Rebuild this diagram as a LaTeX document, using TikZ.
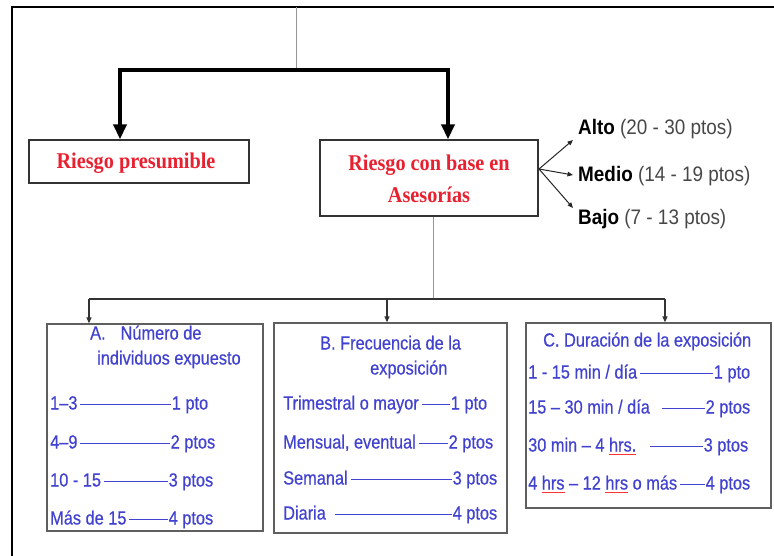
\documentclass[tikz,border=0pt]{standalone}
\usepackage{fontspec}
\setmainfont{Liberation Serif}
\newfontfamily\labelsans[FakeStretch=0.9]{Liberation Sans}
\newfontfamily\itemsans[FakeStretch=0.86,FakeBold=0.6]{Liberation Sans}
\newfontfamily\riskserif[FakeStretch=0.9]{Liberation Serif}
\usetikzlibrary{arrows.meta}

\definecolor{riskred}{RGB}{232,32,48}
\definecolor{itemblue}{RGB}{66,66,208}
\definecolor{linegray}{RGB}{150,150,150}
\definecolor{boxgray}{RGB}{95,95,95}

% one scored row: total width, item text, score; a rule fills the gap
\newcommand{\scorerow}[3]{\hbox to #1{#2\hskip 3pt\leaders\hrule height 6pt depth -5pt\hfill\hskip 1pt #3}}
% spell-check style underline under a word
\newcommand{\sqmark}[1]{\setbox0\hbox{#1}\rlap{\textcolor{red!80}{\rule[-3.5pt]{\wd0}{0.9pt}}}#1}

\tikzset{
  frameline/.style={line width=2.4pt, black},
  thinlink/.style={line width=1pt, linegray},
  bigarrow/.style={line width=3.6pt, black, -{Triangle[width=13pt,length=15pt]}},
  smallarrow/.style={line width=1.1pt, black!80, -{Triangle[width=5pt,length=6pt]}},
  fanarrow/.style={line width=1pt, black!85, -{Triangle[width=4.5pt,length=5.5pt]}},
  riskbox/.style={draw=black!80, line width=1.3pt, inner sep=0pt},
  critbox/.style={draw=boxgray, line width=1.3pt, inner sep=0pt},
  risktext/.style={text=riskred, font=\riskserif\fontsize{22.5}{26}\selectfont\bfseries, inner sep=0pt, anchor=base},
  leveltext/.style={font=\labelsans\fontsize{21}{25}\selectfont, text=black!72, inner sep=0pt, anchor=base west},
  itemtext/.style={font=\itemsans\fontsize{19}{23}\selectfont, text=itemblue, inner sep=0pt, anchor=base west},
}

\begin{document}
\begin{tikzpicture}[x=1pt,y=-1pt]
\useasboundingbox (0,0) rectangle (774,556);

% outer frame (only its top and left sides are in view)
\draw[frameline] (12,556) -- (12,7) -- (774,7);

% upper boxes
\node[riskbox, minimum width=220pt, minimum height=43pt] (presum) at (139,161.5) {};
\node[riskbox, minimum width=218pt, minimum height=76pt] (asesor) at (429,178) {};
\node[risktext] (presumtxt) at (136,169) {Riesgo presumible};
\node[risktext] (asesortxt1) at (429,170.5) {Riesgo con base en};
\node[risktext] (asesortxt2) at (429,202.5) {Asesorías};

% branching from the top
\coordinate (topin) at (296,7);
\coordinate (topjoin) at (296,70);
\coordinate (barL) at (120,70);
\coordinate (barR) at (448,70);
\draw[thinlink] (topin) -- (topjoin);
\draw[line width=3.6pt, black] ([xshift=-1.8pt]barL) -- ([xshift=1.8pt]barR);
\draw[bigarrow] (barL) -- (barL |- presum.north);
\draw[bigarrow] (barR) -- (barR |- asesor.north);

% risk levels
\node[leveltext] (alto) at (578,135) {\textbf{\textcolor{black}{Alto}} (20 - 30 ptos)};
\node[leveltext] (medio) at (578,182) {\textbf{\textcolor{black}{Medio}} (14 - 19 ptos)};
\node[leveltext] (bajo) at (578,225) {\textbf{\textcolor{black}{Bajo}} (7 - 13 ptos)};
\coordinate (fan) at (539,169);
\draw[fanarrow] (fan) -- (573,140);
\draw[fanarrow] (fan) -- (573,175);
\draw[fanarrow] (fan) -- (573,208);

% lower branching
\coordinate (lowjoin) at (433,299);
\draw[thinlink] (asesor.south -| lowjoin) -- (lowjoin);

% criteria boxes
\node[critbox, minimum width=216pt, minimum height=207pt] (boxA) at (155,427.5) {};
\node[critbox, minimum width=233pt, minimum height=210pt] (boxB) at (390.5,428) {};
\node[critbox, minimum width=245pt, minimum height=185pt] (boxC) at (648.5,415.5) {};

\coordinate (jA) at (89,299);
\coordinate (jB) at (387,299);
\coordinate (jC) at (665,299);
\draw[line width=1.1pt, black!80] (jA) -- (jC);
\draw[smallarrow] (jA) -- (jA |- boxA.north);
\draw[smallarrow] (jB) -- (jB |- boxB.north);
\draw[smallarrow] (jC) -- (jC |- boxC.north);

% A. number of exposed individuals
\node[itemtext] (aTitle1) at (90,339.5) {A.\hspace{15pt}Número de};
\node[itemtext] (aTitle2) at (97,364.5) {individuos expuesto};
\node[itemtext] (aRow1) at (50,409.5) {\scorerow{158pt}{1–3}{1 pto}};
\node[itemtext] (aRow2) at (50,448.5) {\scorerow{165pt}{4–9}{2 ptos}};
\node[itemtext] (aRow3) at (50,486.5) {\scorerow{163pt}{10 - 15}{3 ptos}};
\node[itemtext] (aRow4) at (50,524.5) {\scorerow{163pt}{Más de 15}{4 ptos}};

% B. frequency of exposure
\node[itemtext] (bTitle1) at (320,349.5) {B. Frecuencia de la};
\node[itemtext] (bTitle2) at (370,374.5) {exposición};
\node[itemtext] (bRow1) at (283,409.5) {\scorerow{204pt}{Trimestral o mayor}{1 pto}};
\node[itemtext] (bRow2) at (283,448.5) {\scorerow{210pt}{Mensual, eventual}{2 ptos}};
\node[itemtext] (bRow3) at (283,484.5) {\scorerow{214pt}{Semanal}{3 ptos}};
\node[itemtext] (bRow4) at (283,519.5) {\scorerow{214pt}{Diaria\hspace{6pt}}{4 ptos}};

% C. duration of exposure
\node[itemtext] (cTitle) at (543,346.5) {C. Duración de la exposición};
\node[itemtext] (cRow1) at (528,378.5) {\scorerow{222pt}{1 - 15 min / día}{1 pto}};
\node[itemtext] (cRow2) at (528,413.5) {\scorerow{222pt}{15 – 30 min / día\hspace{9pt}}{2 ptos}};
\node[itemtext] (cRow3) at (528,451.5) {\scorerow{220pt}{30 min – 4 \sqmark{hrs.}\hspace{11pt}}{3 ptos}};
\node[itemtext] (cRow4) at (528,489.5) {\scorerow{222pt}{4 \sqmark{hrs} – 12 \sqmark{hrs} o más}{4 ptos}};
\end{tikzpicture}
\end{document}
